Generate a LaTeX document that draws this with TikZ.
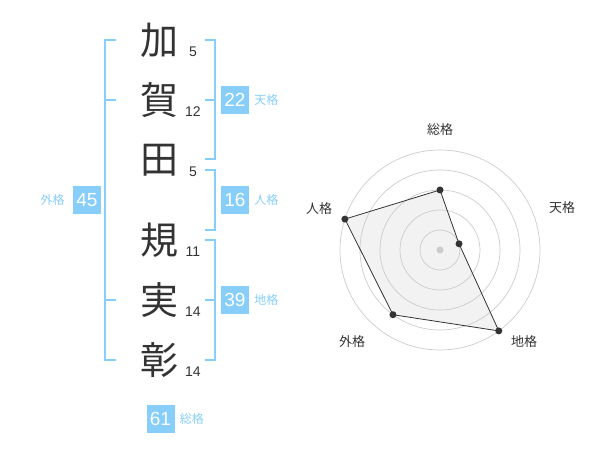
\documentclass[tikz,border=0pt]{standalone}
\usepackage{fontspec}
\setmainfont{Liberation Sans}
\newfontfamily\jpfont{Noto Sans CJK JP}
\usetikzlibrary{calc, positioning}
\definecolor{skyblue}{HTML}{87CEFA}
\definecolor{inkgray}{HTML}{333333}
\definecolor{ringgray}{HTML}{CCCCCC}
\definecolor{polyfill}{HTML}{F2F2F2}

\begin{document}
\begin{tikzpicture}[x=1pt, y=-1pt, bracket/.style={draw=skyblue, line width=2pt}, ring/.style={draw=ringgray, line width=0.7pt}]
    % Define styles for name characters, stroke counts, score boxes and labels
    \tikzstyle{kanji} = [text=inkgray, font=\jpfont\fontsize{38}{38}\selectfont, inner sep=0pt]
    \tikzstyle{strokes} = [text=inkgray, font=\fontsize{14}{14}\selectfont, inner sep=0pt]
    \tikzstyle{score} = [fill=skyblue, text=white, font=\fontsize{19}{19}\selectfont, minimum width=28pt, minimum height=28pt, inner sep=0pt]
    \tikzstyle{kaku} = [text=skyblue, font=\jpfont\fontsize{12}{12}\selectfont, inner sep=0pt]
    \tikzstyle{axis} = [text=inkgray, font=\jpfont\fontsize{13}{13}\selectfont, inner sep=0pt]
    \tikzstyle{dot} = [fill=inkgray, circle, inner sep=0pt, minimum size=7pt]

    \useasboundingbox (0,0) rectangle (600,470);

    % Name characters and stroke counts
    \node [kanji] (ka) at (159,40) {加};
    \node [kanji] (ga) at (159,100) {賀};
    \node [kanji] (ta) at (159,160) {田};
    \node [kanji] (ki) at (159,240) {規};
    \node [kanji] (ji) at (159,300) {実};
    \node [kanji] (sho) at (159,360) {彰};
    \node [strokes] (kanum) at (193,52) {5};
    \node [strokes] (ganum) at (193,112) {12};
    \node [strokes] (tanum) at (193,172) {5};
    \node [strokes] (kinum) at (193,252) {11};
    \node [strokes] (jinum) at (193,312) {14};
    \node [strokes] (shonum) at (193,372) {14};

    % Brackets
    \coordinate (outtop) at (105,40);
    \coordinate (outbot) at (105,360);
    \draw[bracket] ($(outtop)+(11,0)$) -- (outtop) -- (outbot) -- ($(outbot)+(11,0)$);
    \draw[bracket] (105,100) -- ++(11,0);
    \draw[bracket] (105,300) -- ++(11,0);
    \coordinate (tentop) at (215,40);
    \coordinate (tenbot) at (215,159);
    \draw[bracket] ($(tentop)+(-10,0)$) -- (tentop) -- (tenbot) -- ($(tenbot)+(-10,0)$);
    \draw[bracket] (215,100) -- ++(-10,0);
    \coordinate (jintop) at (215,170);
    \coordinate (jinbot) at (215,230);
    \draw[bracket] ($(jintop)+(-10,0)$) -- (jintop) -- (jinbot) -- ($(jinbot)+(-10,0)$);
    \coordinate (chitop) at (215,240);
    \coordinate (chibot) at (215,360);
    \draw[bracket] ($(chitop)+(-10,0)$) -- (chitop) -- (chibot) -- ($(chibot)+(-10,0)$);
    \draw[bracket] (215,300) -- ++(-10,0);

    % Scores and labels
    \node [score] (gaibox) at (87,200) {45};
    \node [kaku, left=8pt of gaibox] (gailabel) {外格};
    \node [score] (tenbox) at (235,100) {22};
    \node [kaku, right=5pt of tenbox] (tenlabel) {天格};
    \node [score] (jinbox) at (235,200) {16};
    \node [kaku, right=5pt of jinbox] (jinlabel) {人格};
    \node [score] (chibox) at (235,300) {39};
    \node [kaku, right=5pt of chibox] (chilabel) {地格};
    \node [score] (sobox) at (160.5,419) {61};
    \node [kaku, right=5pt of sobox] (solabel) {総格};

    % Radar chart
    \coordinate (center) at (440,250);
    \coordinate (psou) at ($(center)+(-90:60)$);
    \coordinate (pten) at ($(center)+(-18:20)$);
    \coordinate (pchi) at ($(center)+(54:100)$);
    \coordinate (pgai) at ($(center)+(126:80)$);
    \coordinate (pjin) at ($(center)+(-162:100)$);
    \fill[polyfill] (psou) -- (pten) -- (pchi) -- (pgai) -- (pjin) -- cycle;
    \foreach \r in {20,40,60,80,100}
        \draw[ring] (center) circle[radius=\r pt];
    \fill[ringgray] (center) circle[radius=3.5pt];
    \draw[inkgray, line width=0.8pt] (psou) -- (pten) -- (pchi) -- (pgai) -- (pjin) -- cycle;
    \foreach \p in {psou,pten,pchi,pgai,pjin}
        \node [dot] at (\p) {};

    \node [axis] (asou) at (440,130) {総格};
    \node [axis] (aten) at (562,208) {天格};
    \node [axis] (achi) at (524,342) {地格};
    \node [axis] (agai) at (352,342) {外格};
    \node [axis] (ajin) at (319,209) {人格};
\end{tikzpicture}
\end{document}
